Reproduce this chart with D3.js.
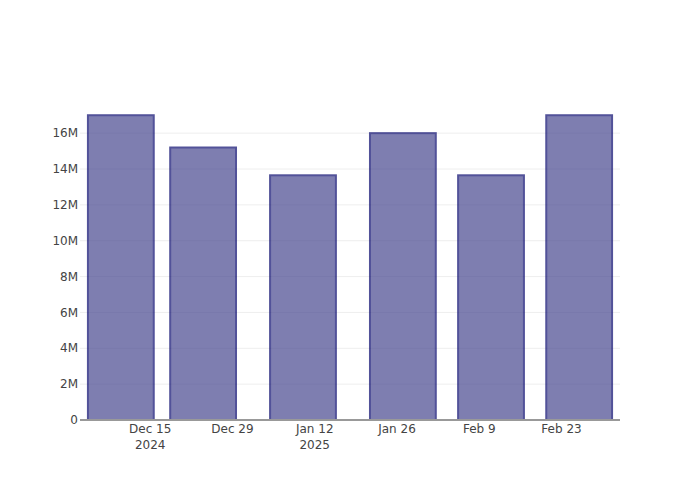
<!DOCTYPE html>
<html><head><meta charset="utf-8">
<script src="https://cdn.jsdelivr.net/npm/d3@7/dist/d3.min.js"></script>
<style>body{margin:0;background:#fff}text{font-family:"DejaVu Sans",sans-serif}</style>
</head><body><svg id="c" width="700" height="500"></svg>
<script>
const dates = ["2024-12-10","2024-12-24","2025-01-10","2025-01-27","2025-02-11","2025-02-26"];
const values = [17.0e6, 15.2e6, 13.65e6, 16.0e6, 13.65e6, 17.0e6];
const xTickDates = ["2024-12-15","2024-12-29","2025-01-12","2025-01-26","2025-02-09","2025-02-23"];
const xTickLabels = [["Dec 15","2024"],["Dec 29"],["Jan 12","2025"],["Jan 26"],["Feb 9"],["Feb 23"]];
const yTicks = [0,2e6,4e6,6e6,8e6,10e6,12e6,14e6,16e6];

const parse = d3.utcParse("%Y-%m-%d");
const DAY = 864e5;
const m = {l:80, r:80, t:100, b:80};
const W = 700, H = 500;
const svg = d3.select("#c");
const xd = dates.map(parse);
let minDiff = Infinity;
for (let i=1;i<xd.length;i++) minDiff = Math.min(minDiff, xd[i]-xd[i-1]);
const bw = minDiff*0.8;
const pad = 1.35*DAY;
const x = d3.scaleUtc()
  .domain([new Date(+xd[0]-bw/2-pad), new Date(+xd[xd.length-1]+bw/2+pad)])
  .range([m.l, W-m.r]);
const y = d3.scaleLinear().domain([0, d3.max(values)*1.05]).range([H-m.b, m.t]);

// grid
svg.append("g").selectAll("line").data(yTicks.filter(d=>d>0)).join("line")
  .attr("x1", m.l).attr("x2", W-m.r)
  .attr("y1", d=>y(d)).attr("y2", d=>y(d))
  .attr("stroke", "#eee").attr("stroke-width", 1);

// bars
svg.append("g").selectAll("rect").data(values).join("rect")
  .attr("x", (d,i)=>x(new Date(+xd[i]-bw/2)))
  .attr("width", (d,i)=>x(new Date(+xd[i]+bw/2))-x(new Date(+xd[i]-bw/2)))
  .attr("y", d=>y(d)).attr("height", d=>y(0)-y(d))
  .attr("fill", "rgb(72,72,144)").attr("stroke", "rgb(10,10,110)")
  .attr("stroke-width", 2).attr("opacity", 0.7);

// x axis line
svg.append("line").attr("x1", m.l).attr("x2", W-m.r)
  .attr("y1", y(0)).attr("y2", y(0)).attr("stroke", "#999").attr("stroke-width", 2);

// y labels
const yFmt = d => d===0 ? "0" : (d/1e6)+"M";
svg.append("g").selectAll("text").data(yTicks).join("text")
  .attr("x", m.l-2).attr("y", d=>y(d)).attr("dy", "0.35em")
  .attr("text-anchor", "end").attr("font-size", 12).attr("fill", "#444")
  .text(yFmt);

// x labels
const xg = svg.append("g").selectAll("text").data(xTickDates).join("text")
  .attr("x", d=>x(parse(d))).attr("y", y(0)+9)
  .attr("text-anchor", "middle").attr("font-size", 12).attr("fill", "#444");
xg.each(function(d,i){
  const t = d3.select(this);
  xTickLabels[i].forEach((s,j)=>{
    t.append("tspan").attr("x", x(parse(d))).attr("dy", j===0?"0.35em":"15.4").text(s);
  });
});
</script></body></html>
